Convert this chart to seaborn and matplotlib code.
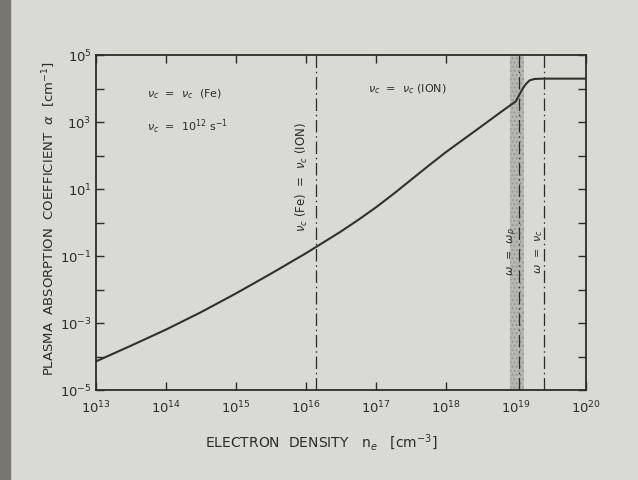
import numpy as np
import pandas as pd
import matplotlib
matplotlib.use("Agg")
import matplotlib.pyplot as plt
import seaborn as sns
from matplotlib.patches import Rectangle

# ---- data ----
density = [1e13, 10**13.5, 1e14, 10**14.5, 1e15, 10**15.5, 1e16, 10**16.5,
           10**16.75, 1e17, 10**17.25, 10**17.5, 10**17.75, 1e18, 10**18.5,
           10**18.8, 1e19, 10**19.06, 10**19.1, 10**19.15, 10**19.2,
           10**19.27, 10**19.4, 1e20]
alpha = [10**-4.15, 10**-3.68, 10**-3.2, 10**-2.68, 10**-2.12, 10**-1.53,
         10**-0.92, 10**-0.27, 10**0.08, 10**0.45, 10**0.85, 10**1.27,
         10**1.69, 10**2.1, 10**2.86, 10**3.32, 10**3.62, 10**3.85, 10**4.0,
         10**4.15, 10**4.25, 10**4.29, 10**4.3, 10**4.3]

nu_fe_ion = 1.4e16          # nu_c(Fe) = nu_c(ION)
omega_p_band = (8.4e18, 1.33e19)
omega_p = 1.1e19            # omega = omega_p
omega_nuc = 2.5e19          # omega = nu_c

x_ticks = [1e13, 1e14, 1e15, 1e16, 1e17, 1e18, 1e19, 1e20]
x_labels = [r"$10^{13}$", r"$10^{14}$", r"$10^{15}$", r"$10^{16}$",
            r"$10^{17}$", r"$10^{18}$", r"$10^{19}$", r"$10^{20}$"]
y_ticks = [1e-5, 1e-4, 1e-3, 1e-2, 1e-1, 1e0, 1e1, 1e2, 1e3, 1e4, 1e5]
y_labels = [r"$10^{-5}$", "", r"$10^{-3}$", "", r"$10^{-1}$", "", r"$10^{1}$", "",
            r"$10^{3}$", "", r"$10^{5}$"]

df = pd.DataFrame({"n": density, "a": alpha})

sns.set_theme(style="ticks")
plt.rcParams["font.family"] = ["DejaVu Sans"]
paper = "#dadad4"
ink = "#2b2b2b"

fig = plt.figure(figsize=(6.38, 4.8), dpi=100, facecolor=paper)
ax = fig.add_axes([0.150, 0.1875, 0.768, 0.6975])
ax.set_facecolor(paper)
fig.patches.append(Rectangle((0, 0), 10 / 638, 1, transform=fig.transFigure,
                             color="#77776f", zorder=-1))

# shaded band
ax.axvspan(*omega_p_band, facecolor="#b8b8b2", edgecolor="#9a9a94",
           hatch="....", linewidth=0, zorder=1)

sns.lineplot(data=df, x="n", y="a", ax=ax, color="#303030", linewidth=1.5,
             zorder=3, estimator=None, sort=False)

dashdot = (0, (10, 3, 1.2, 3))
for xv in [nu_fe_ion, omega_p, omega_nuc]:
    ax.axvline(xv, color=ink, linewidth=0.9, linestyle=dashdot, zorder=2)

ax.set_xscale("log")
ax.set_yscale("log")
ax.set_xlim(1e13, 1e20)
ax.set_ylim(1e-5, 1e5)
ax.set_xticks(x_ticks)
ax.set_xticklabels(x_labels)
ax.set_yticks(y_ticks)
ax.set_yticklabels(y_labels)
ax.minorticks_off()
ax.tick_params(which="major", direction="in", length=6, width=1.0, color=ink,
               top=True, right=True, labelsize=9.5, labelcolor=ink)
ax.tick_params(axis="x", pad=7)
ax.tick_params(axis="y", pad=3)
for s in ax.spines.values():
    s.set_visible(True)
    s.set_linewidth(1.3)
    s.set_color(ink)

ax.set_xlabel(r"ELECTRON  DENSITY   n$_e$   [cm$^{-3}$]", fontsize=10,
              color=ink)
ax.set_ylabel(r"PLASMA  ABSORPTION  COEFFICIENT  $\alpha$  [cm$^{-1}$]",
              fontsize=9.5, color=ink)
ax.xaxis.set_label_coords(0.461, -0.128)
ax.yaxis.set_label_coords(-0.076, 0.512)

tkw = dict(transform=ax.transAxes, fontsize=8, color=ink)
ax.text(0.104, 0.883, r"$\nu_c$  =  $\nu_c$  (Fe)", ha="left", va="center", **tkw)
ax.text(0.104, 0.787, r"$\nu_c$  =  $10^{12}$ s$^{-1}$", ha="left", va="center", **tkw)
ax.text(0.555, 0.898, r"$\nu_c$  =  $\nu_c$ (ION)", ha="left", va="center", **tkw)
ax.text(0.420, 0.635, r"$\nu_c$ (Fe)  =  $\nu_c$ (ION)", ha="center", va="center",
        rotation=90, transform=ax.transAxes, fontsize=8.5, color=ink)
ax.text(0.852, 0.413, r"$\omega$  =  $\omega_p$", ha="center", va="center",
        rotation=90, **tkw)
ax.text(0.905, 0.413, r"$\omega$  =  $\nu_c$", ha="center", va="center",
        rotation=90, **tkw)

fig.savefig("out.png", dpi=100, facecolor=paper)
